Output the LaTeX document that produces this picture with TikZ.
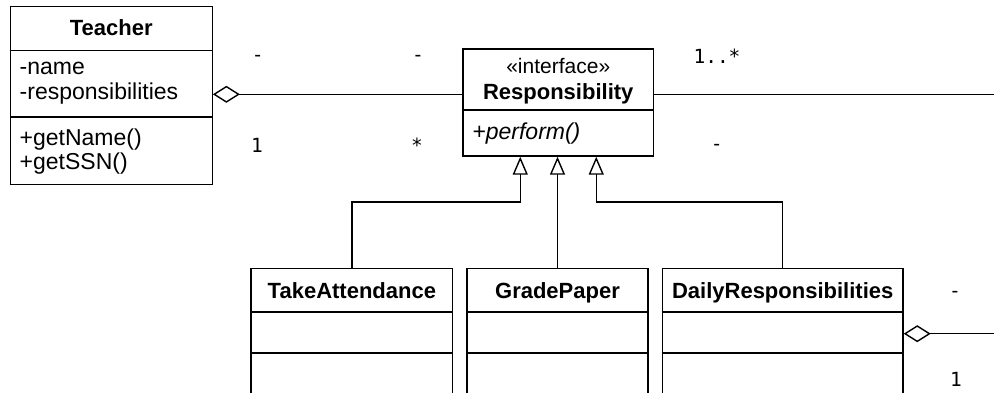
\documentclass[tikz,border=0pt]{standalone}
\usepackage{fontspec}
\setmainfont{Liberation Sans}
\newfontfamily\multfont{DejaVu Sans Mono}
\usetikzlibrary{positioning}
\usetikzlibrary{arrows.meta}

\begin{document}
\begin{tikzpicture}[x=1pt, y=-1pt, line width=1.4pt,
    box/.style={draw, rectangle, inner sep=0pt},
    title/.style={anchor=base, inner sep=0pt, font=\fontsize{22}{24}\selectfont\bfseries},
    member/.style={anchor=base west, inner sep=0pt, font=\fontsize{23}{25}\selectfont},
    mult/.style={anchor=base, inner sep=0pt, font=\multfont\fontsize{19.5}{21}\selectfont},
    aggr/.style={{Diamond[open, length=27pt, width=17pt]}-},
    gen/.style={-{Triangle[open, length=18pt, width=15pt]}}]
    \useasboundingbox (0,0) rectangle (994,393);
    \clip (0,0) rectangle (994,393);

    % Teacher
    \node[box, minimum width=202pt, minimum height=178pt, anchor=north west] (teacher) at (9.5,6) {};
    \draw (teacher.west |- 0,50.5) -- (teacher.east |- 0,50.5);
    \draw (teacher.west |- 0,117) -- (teacher.east |- 0,117);
    \node[title] (teachertitle) at (teacher.north |- 0,36) {Teacher};
    \node[member] (tname) at (19,75) {-name};
    \node[member] (tresp) at (19,100) {-responsibilities};
    \node[member] (tgetname) at (19,146) {+getName()};
    \node[member] (tgetssn) at (19,170) {+getSSN()};

    % Responsibility
    \node[box, minimum width=190.5pt, minimum height=107pt, anchor=north west] (resp) at (462.3,48.3) {};
    \draw (resp.west |- 0,110) -- (resp.east |- 0,110);
    \node[anchor=base, inner sep=0pt, font=\fontsize{21}{23}\selectfont] (stereo) at (resp.north |- 0,73.3) {«interface»};
    \node[title] (resptitle) at (resp.north |- 0,100) {Responsibility};
    \node[member, font=\fontsize{23}{25}\selectfont\itshape] (perform) at (471.7,140) {+perform()};

    % subclasses
    \node[box, minimum width=201.7pt, minimum height=180pt, anchor=north] (take) at (351.9,267.5) {};
    \node[box, minimum width=180.7pt, minimum height=180pt, anchor=north] (grade) at (557.5,267.5) {};
    \node[box, minimum width=240.7pt, minimum height=180pt, anchor=north] (daily) at (782.7,267.5) {};
    \foreach \cls in {take, grade, daily} {
        \draw (\cls.west |- 0,312) -- (\cls.east |- 0,312);
        \draw (\cls.west |- 0,353) -- (\cls.east |- 0,353);
    }
    \node[title] (taketitle) at (take.north |- 0,298) {TakeAttendance};
    \node[title] (gradetitle) at (grade.north |- 0,298) {GradePaper};
    \node[title] (dailytitle) at (daily.north |- 0,298) {DailyResponsibilities};

    % generalization
    \coordinate (tipL) at ([xshift=-38pt]resp.south);
    \coordinate (tipR) at ([xshift=38pt]resp.south);
    \coordinate (elbow) at (0,202);
    \draw[gen] (take.north) |- (elbow -| tipL) -- (tipL);
    \draw[gen] (grade.north) -- (grade.north |- resp.south);
    \draw[gen] (daily.north) |- (elbow -| tipR) -- (tipR);

    % aggregation
    \coordinate (respend) at (1000,94.3);
    \coordinate (dailyend) at (1000,333.7);
    \draw[aggr] (teacher.east |- respend) -- (respend -| resp.west);
    \draw (respend -| resp.east) -- (respend);
    \draw[aggr] (daily.east |- dailyend) -- (dailyend);

    % multiplicities
    \node[mult] (m1) at (257.7,62) {-};
    \node[mult] (m2) at (418,62) {-};
    \node[mult] (m3) at (257,152.3) {1};
    \node[mult] (m4) at (417,152.3) {*};
    \node[mult] (m5) at (717,63.3) {1..*};
    \node[mult] (m6) at (716.7,151) {-};
    \node[mult] (m7) at (955,297) {-};
    \node[mult] (m8) at (956,386.3) {1};
\end{tikzpicture}
\end{document}
